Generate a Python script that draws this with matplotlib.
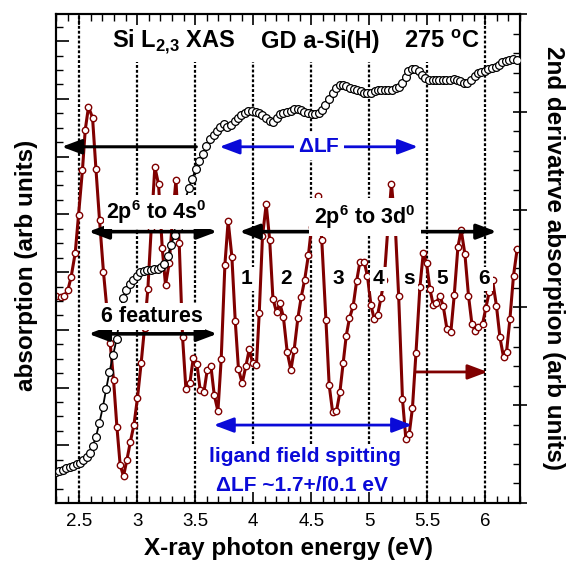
import numpy as np
import matplotlib
matplotlib.use('Agg')
import matplotlib.pyplot as plt
from matplotlib.ticker import MultipleLocator, FuncFormatter

plt.rcParams['font.family'] = ['Liberation Sans', 'DejaVu Sans']
plt.rcParams['mathtext.fontset'] = 'custom'
plt.rcParams['mathtext.rm'] = 'Liberation Sans'
plt.rcParams['mathtext.bf'] = 'Liberation Sans:bold'

# absorption (left axis, arb units)
abs_E = [2.297, 2.328, 2.358, 2.388, 2.418, 2.448, 2.478, 2.509, 2.537, 2.566,
         2.591, 2.616, 2.644, 2.674, 2.704, 2.733, 2.761, 2.793, 2.823, 2.849,
         2.875, 2.905, 2.935, 2.966, 2.996, 3.026, 3.056, 3.086, 3.116, 3.147,
         3.177, 3.207, 3.235, 3.265, 3.293, 3.323, 3.353, 3.384, 3.414, 3.444,
         3.474, 3.506, 3.536, 3.567, 3.597, 3.628, 3.658, 3.688, 3.718, 3.748,
         3.778, 3.809, 3.839, 3.869, 3.899, 3.929, 3.959, 3.990, 4.020, 4.050,
         4.080, 4.110, 4.141, 4.171, 4.201, 4.231, 4.261, 4.291, 4.322, 4.352,
         4.382, 4.412, 4.442, 4.472, 4.503, 4.533, 4.563, 4.593, 4.623, 4.653,
         4.684, 4.714, 4.744, 4.774, 4.804, 4.834, 4.865, 4.895, 4.925, 4.955,
         4.985, 5.016, 5.046, 5.076, 5.106, 5.136, 5.166, 5.197, 5.227, 5.257,
         5.287, 5.313, 5.336, 5.365, 5.395, 5.425, 5.455, 5.485, 5.516, 5.546,
         5.576, 5.606, 5.636, 5.666, 5.697, 5.727, 5.757, 5.787, 5.817, 5.847,
         5.878, 5.908, 5.938, 5.968, 5.998, 6.028, 6.059, 6.089, 6.119, 6.149,
         6.179, 6.209, 6.240, 6.270]
abs_val = [0.54, 0.56, 0.58, 0.60, 0.62, 0.64, 0.67, 0.70, 0.75, 0.80,
           0.87, 0.99, 1.14, 1.39, 1.66, 1.98, 2.27, 2.57, 2.84, 3.21,
           3.55, 3.69, 3.80, 3.87, 3.94, 4.00, 4.02, 4.03, 4.04, 4.06,
           4.06, 4.09, 4.14, 4.28, 4.47, 4.65, 4.77, 4.99, 5.25, 5.45,
           5.62, 5.79, 5.92, 6.05, 6.19, 6.30, 6.38, 6.44, 6.51, 6.56,
           6.52, 6.54, 6.61, 6.66, 6.72, 6.76, 6.79, 6.79, 6.77, 6.75,
           6.72, 6.66, 6.61, 6.60, 6.66, 6.73, 6.76, 6.77, 6.79, 6.82,
           6.83, 6.81, 6.78, 6.75, 6.74, 6.73, 6.75, 6.80, 6.89, 6.99,
           7.10, 7.18, 7.24, 7.24, 7.22, 7.19, 7.17, 7.15, 7.13, 7.11,
           7.10, 7.11, 7.13, 7.15, 7.15, 7.15, 7.16, 7.16, 7.18, 7.20,
           7.27, 7.38, 7.49, 7.52, 7.51, 7.48, 7.42, 7.36, 7.32, 7.32,
           7.32, 7.32, 7.32, 7.32, 7.33, 7.34, 7.33, 7.31, 7.28, 7.28,
           7.33, 7.39, 7.44, 7.46, 7.49, 7.52, 7.53, 7.56, 7.59, 7.63,
           7.66, 7.68, 7.69, 7.67]

# 2nd derivative (right axis, arb units)
d2_E = [2.302, 2.342, 2.373, 2.403, 2.431, 2.466, 2.494, 2.528, 2.552, 2.580,
        2.615, 2.644, 2.675, 2.709, 2.741, 2.767, 2.796, 2.825, 2.853, 2.882,
        2.911, 2.941, 2.972, 3.002, 3.034, 3.063, 3.092, 3.121, 3.152, 3.184,
        3.216, 3.244, 3.276, 3.304, 3.334, 3.362, 3.391, 3.420, 3.454, 3.483,
        3.515, 3.543, 3.575, 3.603, 3.635, 3.664, 3.696, 3.724, 3.756, 3.784,
        3.816, 3.845, 3.873, 3.905, 3.937, 3.966, 3.994, 4.028, 4.052, 4.080,
        4.112, 4.142, 4.170, 4.201, 4.230, 4.260, 4.293, 4.325, 4.353, 4.385,
        4.414, 4.444, 4.476, 4.503, 4.530, 4.559, 4.591, 4.627, 4.655, 4.684,
        4.718, 4.747, 4.776, 4.802, 4.830, 4.862, 4.891, 4.920, 4.957, 4.985,
        5.015, 5.043, 5.072, 5.101, 5.129, 5.159, 5.192, 5.227, 5.254, 5.287,
        5.316, 5.345, 5.373, 5.403, 5.437, 5.466, 5.494, 5.523, 5.552, 5.580,
        5.609, 5.638, 5.670, 5.704, 5.733, 5.765, 5.793, 5.825, 5.856, 5.885,
        5.914, 5.942, 5.977, 6.006, 6.034, 6.063, 6.097, 6.127, 6.158, 6.184,
        6.213, 6.244, 6.276]
d2_val = [4.23, 4.21, 4.24, 4.36, 4.63, 5.12, 5.89, 6.81, 7.63, 8.10,
          7.88, 6.84, 5.79, 4.73, 3.91, 3.27, 2.52, 1.56, 0.78, 0.55,
          0.88, 1.25, 1.60, 2.14, 2.86, 3.58, 4.38, 5.62, 6.87, 6.52,
          5.21, 4.46, 4.91, 5.79, 6.61, 5.32, 3.39, 2.33, 2.45, 2.96,
          2.84, 2.31, 2.26, 2.71, 2.81, 2.21, 1.88, 2.94, 4.87, 5.77,
          5.04, 3.73, 2.74, 2.45, 2.80, 3.14, 2.87, 2.82, 3.88, 5.45,
          6.11, 5.38, 4.18, 3.90, 4.08, 3.81, 3.09, 2.72, 3.13, 3.78,
          4.21, 4.57, 5.07, 5.65, 6.16, 6.28, 5.38, 3.74, 2.41, 1.87,
          1.88, 2.26, 2.87, 3.42, 3.78, 4.03, 4.53, 4.93, 4.93, 4.64,
          4.05, 3.76, 3.84, 4.19, 4.56, 5.56, 6.53, 5.56, 4.23, 2.12,
          1.31, 1.41, 1.95, 3.06, 4.41, 5.11, 4.91, 4.38, 4.05, 4.10,
          4.24, 4.03, 3.56, 3.50, 4.25, 5.24, 5.58, 5.09, 4.24, 3.67,
          3.52, 3.59, 3.66, 3.99, 4.31, 4.56, 4.03, 3.39, 2.98, 3.09,
          3.76, 4.65, 5.20]

grid_E = [2.5, 3.0, 3.5, 4.0, 4.5, 5.0, 5.5, 6.0]
feature_labels = ['1', '2', '3', '4', 's', '5', '6']
feature_E = [3.94, 4.285, 4.733, 5.078, 5.345, 5.629, 5.991]

dred = '#800000'
blue = '#0a0ad8'

fig = plt.figure(figsize=(5.67, 5.63), dpi=100)
ax = fig.add_axes([56/567, 60/563, 464/567, 489/563])
ax2 = ax.twinx()
ax.set_zorder(ax2.get_zorder() + 1)
ax.patch.set_visible(False)

ax.set_xlim(2.3, 6.3)
ax.set_ylim(0, 8.47)
ax2.set_ylim(0, 10)

# dotted guide lines (some are cut short by the text)
top_cut = 0.902
low_cut = 0.121
for e in grid_E:
    if e in (2.5, 6.0):
        lo, hi = 0, 1
    elif e in (3.0, 3.5, 5.5):
        lo, hi = 0, top_cut
    else:
        lo, hi = low_cut, top_cut
    ax2.axvline(e, lo, hi, color='k', ls=(0, (1.3, 0.9)), lw=1.6, zorder=1)

ax2.plot(d2_E, d2_val, '-o', color=dred, lw=2.2, ms=4.6, mfc='white',
         mec=dred, mew=1.0, zorder=3)
ax.plot(abs_E, abs_val, '-o', color='k', lw=1.3, ms=5.6, mfc='white',
        mec='k', mew=0.9, zorder=4)

# ticks
ax.xaxis.set_major_locator(MultipleLocator(0.5))
ax.xaxis.set_minor_locator(MultipleLocator(0.1))
ax.xaxis.set_major_formatter(FuncFormatter(lambda v, p: '%g' % v))
ax.yaxis.set_major_locator(MultipleLocator(1))
ax.yaxis.set_minor_locator(MultipleLocator(0.25))
ax2.yaxis.set_major_locator(MultipleLocator(2))
ax2.yaxis.set_minor_locator(MultipleLocator(0.4))
ax.tick_params(axis='x', which='both', direction='in', top=True, labelsize=13.5, pad=7)
ax.tick_params(axis='x', which='major', length=8, width=1.2)
ax.tick_params(axis='x', which='minor', length=5, width=1)
ax.tick_params(axis='y', which='both', direction='in', left=True, right=False, labelleft=False)
ax.tick_params(axis='y', which='major', length=9, width=1.2)
ax.tick_params(axis='y', which='minor', length=5, width=1)
ax2.tick_params(axis='y', which='major', direction='inout', length=10, width=1.2, labelright=False)
ax2.tick_params(axis='y', which='minor', direction='in', length=5, width=1)
for a in (ax, ax2):
    for s in a.spines.values():
        s.set_linewidth(1.5)

fig.text(289/567, 15/563, 'X-ray photon energy (eV)', ha='center', va='center',
         fontsize=17.5, fontweight='bold')
fig.text(27/567, 298/563, 'absorption (arb units)', ha='center', va='center',
         rotation=90, fontsize=17.5, fontweight='bold')
fig.text(553/567, 305/563, '2nd derivatrve absorption (arb units)', ha='center',
         va='center', rotation=-90, fontsize=17.5, fontweight='bold')

# title pieces
ax.text(2.784, 7.99, r'Si L$_{\mathbf{2{,}3}}$ XAS', ha='left', va='center',
        fontsize=17, fontweight='bold', zorder=8)
ax.text(4.069, 7.99, 'GD a-Si(H)', ha='left', va='center',
        fontsize=17, fontweight='bold', zorder=8)
ax.text(5.302, 7.99, r'275 $^{\mathbf{o}}$C', ha='left', va='center',
        fontsize=17, fontweight='bold', zorder=8)

box = dict(facecolor='white', edgecolor='none', pad=2)


def arrow(x0, x1, y, style, color, lw):
    ax.annotate('', xy=(x1, y), xytext=(x0, y),
                arrowprops=dict(arrowstyle=style, color=color, lw=lw,
                                shrinkA=0, shrinkB=0),
                zorder=6)


one = '-|>,head_length=1.2,head_width=0.45'
two = '<|-|>,head_length=1.2,head_width=0.45'
arrow(3.51, 2.35, 6.17, one, 'k', 2.2)
arrow(3.71, 5.42, 6.17, two, blue, 2.0)
arrow(2.58, 3.69, 4.70, two, 'k', 2.6)
arrow(2.58, 3.69, 2.93, two, 'k', 2.6)
arrow(3.88, 6.10, 4.70, two, 'k', 2.6)
arrow(5.405, 6.02, 2.27, one, dred, 2.0)
arrow(3.66, 5.37, 1.35, two, blue, 2.0)

ax.text(4.57, 6.17, r'$\mathbf{\Delta}$LF', ha='center', va='center', fontsize=15,
        fontweight='bold', color=blue, bbox=dict(facecolor='white', edgecolor='none', pad=3), zorder=7)
ax.text(3.168, 5.04, r'2p$^{\mathbf{6}}$ to 4s$^{\mathbf{0}}$', ha='center', va='center',
        fontsize=15.5, fontweight='bold', bbox=box, zorder=7)
ax.text(3.125, 3.23, '6 features', ha='center', va='center',
        fontsize=15.5, fontweight='bold', bbox=box, zorder=7)
ax.text(4.965, 4.96, r'2p$^{\mathbf{6}}$ to 3d$^{\mathbf{0}}$', ha='center', va='center',
        fontsize=15.5, fontweight='bold', bbox=dict(facecolor='white', edgecolor='none', pad=3.5), zorder=7)
for lab, e in zip(feature_labels, feature_E):
    ax.text(e, 3.88, lab, ha='center', va='center', fontsize=15,
            fontweight='bold', bbox=box, zorder=7)

ax.text(4.448, 0.80, 'ligand field spitting', ha='center', va='center',
        fontsize=15, fontweight='bold', color=blue, zorder=7)
ax.text(4.418, 0.31, '\u0394LF ~1.7+/\u017f0.1 eV', ha='center', va='center',
        fontsize=15, fontweight='bold', color=blue, zorder=7)

fig.savefig('out.png', dpi=100)
